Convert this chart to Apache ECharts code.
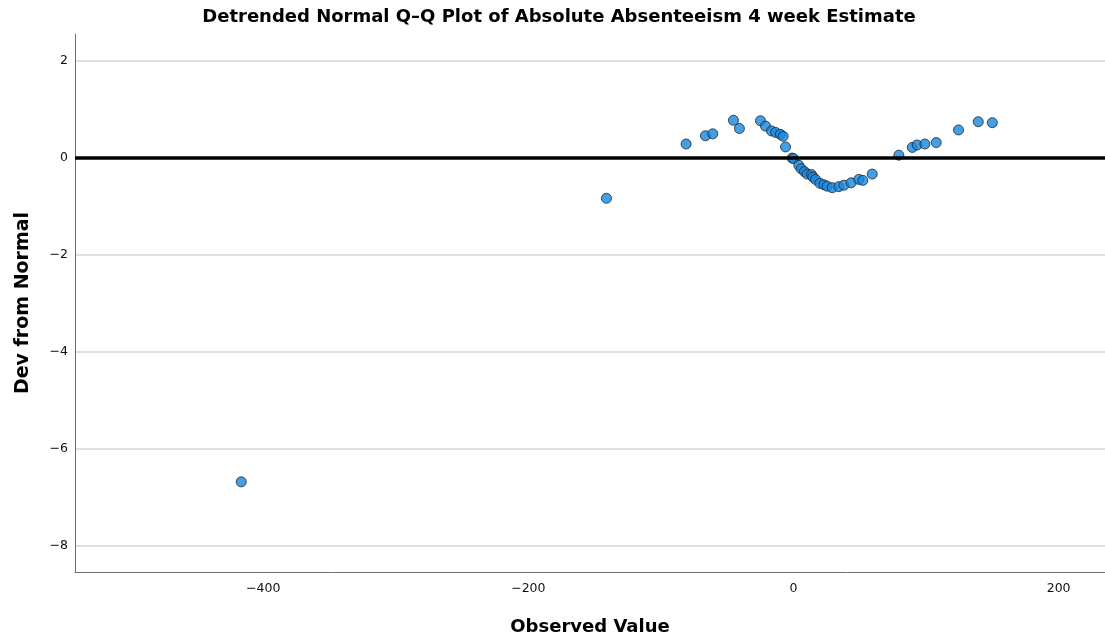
<!DOCTYPE html>
<html>
<head>
<meta charset="utf-8">
<title>Detrended Normal Q–Q Plot</title>
<script src="https://cdn.jsdelivr.net/npm/echarts@6/dist/echarts.min.js"></script>
<style>
  html, body { margin: 0; padding: 0; background: #fff; }
  #chart { width: 1105px; height: 643px; }
</style>
</head>
<body>
<div id="chart"></div>
<script>
// Observed values (x) and their deviation from the normal expectation (y)
const observedValues = [
  -416.6, -141.1, -81.0, -66.4, -60.9, -45.3, -40.8, -24.9, -21.1, -16.6,
  -13.5, -9.9, -7.8, -6.0, -1.0, 0.0, 4.0, 5.8, 8.3, 10.3,
  13.6, 14.6, 16.6, 19.9, 22.9, 25.4, 29.2, 34.2, 38.0, 43.5,
  49.3, 52.3, 59.4, 79.5, 89.6, 93.3, 99.1, 107.7, 124.5, 139.4,
  150.0
];
const devFromNormal = [
  -6.68, -0.83, 0.29, 0.46, 0.50, 0.78, 0.61, 0.77, 0.66, 0.56,
  0.53, 0.49, 0.45, 0.23, 0.00, -0.01, -0.15, -0.22, -0.28, -0.33,
  -0.34, -0.39, -0.44, -0.52, -0.55, -0.58, -0.61, -0.59, -0.56, -0.51,
  -0.44, -0.46, -0.33, 0.06, 0.22, 0.27, 0.29, 0.32, 0.58, 0.75,
  0.73
];

// Axis extents and tick labels
const xRange = [-542, 235];
const yRange = [-8.54, 2.56];
const xTicks = [-400, -200, 0, 200];
const yTicks = [-8, -6, -4, -2, 0, 2];

const points = observedValues.map((v, i) => [v, devFromNormal[i]]);
const fmt = v => (v < 0 ? '\u2212' + Math.abs(v) : String(v));

const chart = echarts.init(document.getElementById('chart'), null, { renderer: 'canvas' });
chart.setOption({
  animation: false,
  backgroundColor: '#ffffff',
  title: {
    text: 'Detrended Normal Q\u2013Q Plot of Absolute Absenteeism 4 week Estimate',
    left: 554,
    textAlign: 'center',
    top: 3,
    textStyle: { fontFamily: 'DejaVu Sans', fontWeight: 'bold', fontSize: 18, color: '#000' }
  },
  grid: { left: 75, right: 0, top: 34, bottom: 71, containLabel: false },
  xAxis: {
    type: 'value',
    min: xRange[0],
    max: xRange[1],
    name: 'Observed Value',
    nameLocation: 'middle',
    nameGap: 46,
    nameTextStyle: { fontFamily: 'DejaVu Sans', fontWeight: 'bold', fontSize: 18, color: '#000' },
    axisLine: { show: true, onZero: false, lineStyle: { color: '#707070', width: 1 } },
    axisTick: { show: false, customValues: xTicks },
    axisLabel: {
      customValues: xTicks,
      formatter: fmt,
      margin: 10,
      fontFamily: 'DejaVu Sans',
      fontSize: 12.5,
      color: '#111'
    },
    splitLine: { show: false }
  },
  yAxis: {
    type: 'value',
    min: yRange[0],
    max: yRange[1],
    name: 'Dev from Normal',
    nameLocation: 'middle',
    nameGap: 42,
    nameTextStyle: { fontFamily: 'DejaVu Sans', fontWeight: 'bold', fontSize: 19, color: '#000' },
    axisLine: { show: true, onZero: false, lineStyle: { color: '#707070', width: 1 } },
    axisTick: { show: false, customValues: yTicks },
    axisLabel: {
      customValues: yTicks,
      formatter: fmt,
      margin: 7,
      fontFamily: 'DejaVu Sans',
      fontSize: 12.5,
      color: '#111'
    },
    splitLine: { show: true, lineStyle: { color: '#d4d4d4', width: 1.5 } }
  },
  series: [
    {
      type: 'scatter',
      data: points,
      symbol: 'circle',
      symbolSize: 10,
      itemStyle: { color: '#1787df', borderColor: '#1a2633', borderWidth: 1 },
      z: 2
    },
    {
      // zero-deviation reference line, drawn above the points
      type: 'line',
      data: [[xRange[0], 0], [xRange[1], 0]],
      symbol: 'none',
      silent: true,
      lineStyle: { color: '#000', width: 3.5 },
      z: 5
    }
  ]
});
</script>
</body>
</html>
